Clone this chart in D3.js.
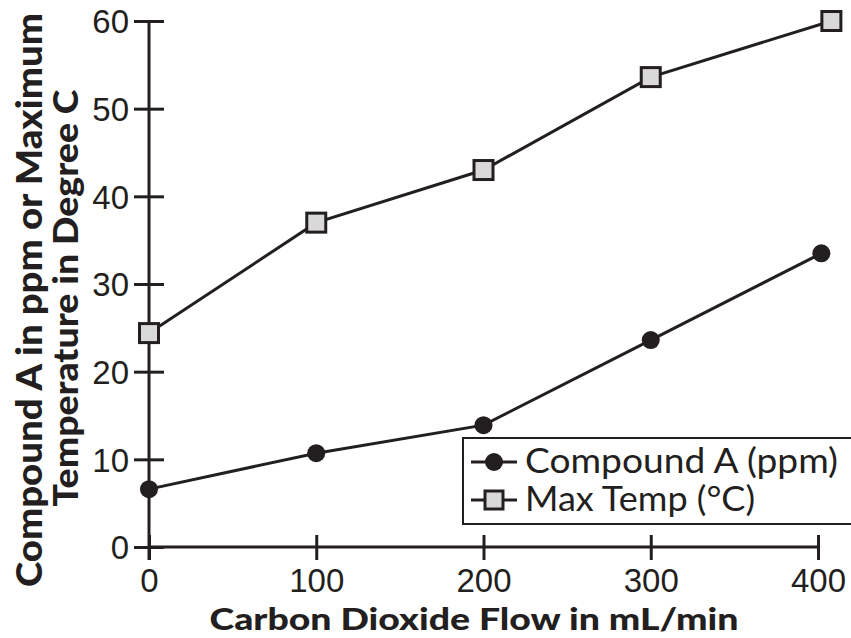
<!DOCTYPE html>
<html>
<head>
<meta charset="utf-8">
<script src="https://cdn.jsdelivr.net/npm/d3@7"></script>
<style>
html,body{margin:0;padding:0;background:#fff;}
svg{display:block;}
</style>
</head>
<body>
<svg id="chart" width="851" height="638"></svg>
<script>
// ---- data ----
const compoundFlow = [0, 100, 200, 300, 402];
const compoundA = [6.6, 10.7, 13.9, 23.6, 33.5];
const tempFlow = [0, 100, 200, 300, 408];
const maxTemp = [24.4, 37.0, 43.0, 53.6, 60.0];
const xTicks = [0, 100, 200, 300, 400];
const yTicks = [0, 10, 20, 30, 40, 50, 60];
const seriesNames = ["Compound A (ppm)", "Max Temp (°C)"];
const xTitle = "Carbon Dioxide Flow in mL/min";
const yTitle1 = "Compound A in ppm or Maximum";
const yTitle2 = "Temperature in Degree C";

const ink = "#231f20";
const svg = d3.select("#chart");
const x = d3.scaleLinear().domain([0, 400]).range([149, 818]);
const y = d3.scaleLinear().domain([0, 60]).range([547, 21]);
const tickFont = "'Liberation Sans Narrow', 'Arial Narrow', 'Liberation Sans', Arial, sans-serif";

// axes
const yAxis = svg.append("g").attr("transform", `translate(${x(0)},0)`)
  .call(d3.axisLeft(y).tickValues(yTicks).tickSize(15).tickPadding(6).tickFormat(d3.format("d")));
yAxis.selectAll(".tick line").attr("x2", -15).attr("x1", 15);
const xAxis = svg.append("g").attr("transform", `translate(0,${y(0)})`)
  .call(d3.axisBottom(x).tickValues(xTicks).tickSize(13).tickPadding(8).tickFormat(d3.format("d")));
xAxis.selectAll(".tick line").attr("y1", -12).attr("y2", 13);
[yAxis, xAxis].forEach(a => {
  a.select(".domain").remove();
  a.selectAll(".tick line").attr("stroke", ink).attr("stroke-width", 3);
  a.selectAll(".tick text").attr("fill", ink)
    .style("font-family", tickFont).style("font-size", "33px");
});
yAxis.selectAll(".tick text").attr("dy", "0.36em").attr("x", -20);
xAxis.selectAll(".tick text").attr("dy", null).attr("y", 45);
// axis lines
svg.append("line").attr("x1", x(0)).attr("x2", x(0)).attr("y1", y(60)).attr("y2", y(0) + 13)
  .attr("stroke", ink).attr("stroke-width", 3);
svg.append("line").attr("x1", x(0)).attr("x2", x(400)).attr("y1", y(0)).attr("y2", y(0))
  .attr("stroke", ink).attr("stroke-width", 3);

// lines
const line = d3.line().x(d => x(d[0])).y(d => y(d[1]));
const cData = compoundFlow.map((f, i) => [f, compoundA[i]]);
const tData = tempFlow.map((f, i) => [f, maxTemp[i]]);
svg.append("path").datum(cData).attr("d", line).attr("fill", "none").attr("stroke", ink).attr("stroke-width", 3);
svg.append("path").datum(tData).attr("d", line).attr("fill", "none").attr("stroke", ink).attr("stroke-width", 3);
svg.selectAll(".pt").data(cData).enter().append("circle")
  .attr("cx", d => x(d[0])).attr("cy", d => y(d[1])).attr("r", 9).attr("fill", ink);
const sq = 19;
svg.selectAll(".sq").data(tData).enter().append("rect")
  .attr("x", d => x(d[0]) - sq / 2).attr("y", d => y(d[1]) - sq / 2)
  .attr("width", sq).attr("height", sq).attr("fill", "#d9d9d9").attr("stroke", ink).attr("stroke-width", 3);

// legend
const lg = svg.append("g");
lg.append("rect").attr("x", 463).attr("y", 438).attr("width", 400).attr("height", 86)
  .attr("fill", "#fff").attr("stroke", ink).attr("stroke-width", 2);
const rowsY = [462, 500];
const textLens = [313, 230];
seriesNames.forEach((name, i) => {
  lg.append("line").attr("x1", 471).attr("x2", 517).attr("y1", rowsY[i]).attr("y2", rowsY[i])
    .attr("stroke", ink).attr("stroke-width", 3);
  if (i === 0) {
    lg.append("circle").attr("cx", 494).attr("cy", rowsY[i]).attr("r", 9).attr("fill", ink);
  } else {
    lg.append("rect").attr("x", 494 - 9).attr("y", rowsY[i] - 9).attr("width", 18).attr("height", 18)
      .attr("fill", "#d9d9d9").attr("stroke", ink).attr("stroke-width", 3);
  }
  lg.append("text").attr("x", 525).attr("y", rowsY[i] + 11)
    .attr("textLength", textLens[i]).attr("lengthAdjust", "spacingAndGlyphs")
    .style("font-family", "Lato, 'Open Sans', sans-serif").style("font-size", "34px")
    .attr("fill", ink).text(name);
});

// titles
svg.append("text").attr("x", 474).attr("y", 630).attr("text-anchor", "middle")
  .attr("textLength", 529).attr("lengthAdjust", "spacingAndGlyphs")
  .style("font-family", "Lato, sans-serif").style("font-weight", "900").style("font-size", "31px")
  .attr("fill", ink).text(xTitle);
svg.append("text").attr("transform", "translate(42,300) rotate(-90)").attr("text-anchor", "middle")
  .attr("textLength", 574).attr("lengthAdjust", "spacingAndGlyphs")
  .style("font-family", "Lato, sans-serif").style("font-weight", "900").style("font-size", "36px")
  .attr("fill", ink).text(yTitle1);
svg.append("text").attr("transform", "translate(78,298) rotate(-90)").attr("text-anchor", "middle")
  .attr("textLength", 417).attr("lengthAdjust", "spacingAndGlyphs")
  .style("font-family", "Lato, sans-serif").style("font-weight", "900").style("font-size", "35px")
  .attr("fill", ink).text(yTitle2);
</script>
</body>
</html>
